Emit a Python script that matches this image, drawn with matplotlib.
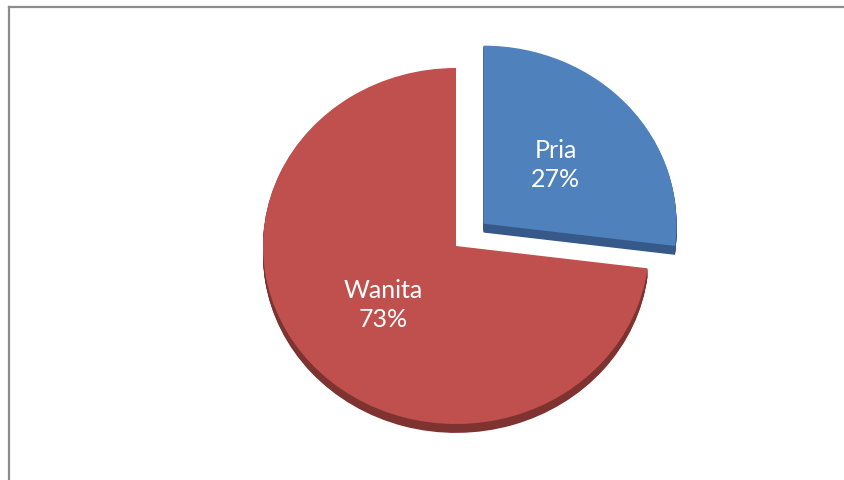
import matplotlib.pyplot as plt
from matplotlib.lines import Line2D

labels = ['Pria', 'Wanita']
values = [27, 73]
top_colors = ['#4f81bd', '#c0504d']
side_colors = ['#36598a', '#7f3331']
explode = [0.19, 0.0]

W, H = 844, 480
cx, cy = 456, 246      # pie centre, pixels from top-left
rx, ry = 193, 178      # on-screen radii -> tilted look
depth = 0.05           # thickness of the slab, in y radius units

fig = plt.figure(figsize=(W / 100, H / 100), dpi=100)
ax = fig.add_axes([0, 0, 1, 1])

# side walls: stack darker copies below the top face
n_layers = 12
for i in range(n_layers, 0, -1):
    off = depth * i / n_layers
    ax.pie(values, explode=explode, colors=side_colors, startangle=90,
           counterclock=False, center=(0, -off),
           wedgeprops=dict(linewidth=0))

texts_iter = iter(labels)
wedges, _, autotexts = ax.pie(
    values, explode=explode, colors=top_colors, startangle=90,
    counterclock=False, center=(0, 0),
    autopct=lambda p: f'{next(texts_iter)}\n{p:.0f}%',
    pctdistance=0.5, wedgeprops=dict(linewidth=0),
    textprops=dict(color='white', fontsize=18, family='Lato',
                   linespacing=1.3))

ax.set_aspect('auto')
ax.set_xlim(-cx / rx, (W - cx) / rx)
ax.set_ylim(-(H - cy) / ry, cy / ry)
ax.axis('off')

# chart area frame (left and top edges)
fig.add_artist(Line2D([8.5 / W, 8.5 / W], [0, 1 - 6.5 / H],
                      transform=fig.transFigure, color='#8c8c8c', lw=1.6))
fig.add_artist(Line2D([8.5 / W, 1], [1 - 6.5 / H, 1 - 6.5 / H],
                      transform=fig.transFigure, color='#8c8c8c', lw=1.6))

fig.savefig('out.png', dpi=100, facecolor='white')
